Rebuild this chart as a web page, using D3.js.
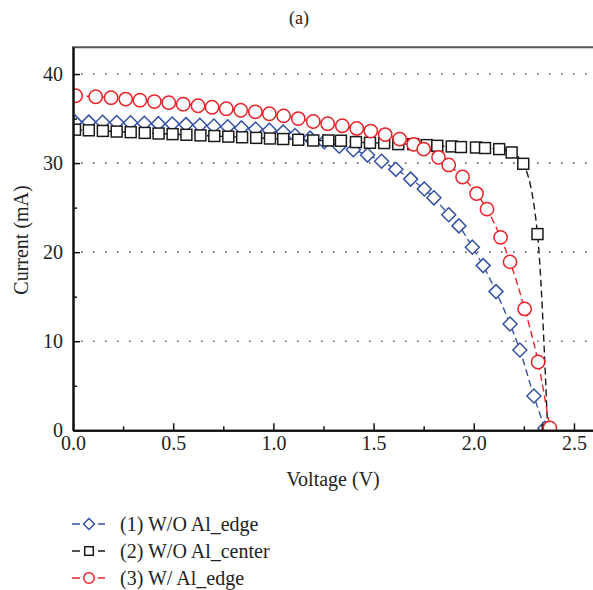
<!DOCTYPE html>
<html>
<head>
<meta charset="utf-8">
<script src="https://cdn.jsdelivr.net/npm/d3@7"></script>
<style>
  html, body { margin: 0; padding: 0; background: #fff; }
  svg { display: block; font-family: 'Liberation Serif', 'DejaVu Serif', serif; }
</style>
</head>
<body>
<svg id="chart" width="593" height="590"></svg>
<script>
"use strict";

// (1) W/O Al_edge
const voltageEdge = [0.01, 0.079, 0.148, 0.218, 0.287, 0.356, 0.426, 0.495, 0.564, 0.633, 0.703, 0.772, 0.841, 0.911, 0.980, 1.049,
  1.108, 1.183, 1.254, 1.329, 1.399, 1.470, 1.540, 1.611, 1.685, 1.753, 1.801, 1.875, 1.926, 1.993, 2.047, 2.111, 2.181, 2.230, 2.300, 2.355];
const currentEdge = [34.6, 34.6, 34.58, 34.55, 34.52, 34.48, 34.43, 34.38, 34.32, 34.25, 34.17, 34.07, 33.95, 33.82, 33.68, 33.5,
  33.1, 32.8, 32.4, 31.9, 31.5, 30.9, 30.2, 29.3, 28.2, 27.1, 26.1, 24.2, 22.95, 20.56, 18.49, 15.57, 11.94, 9.02, 3.85, 0.22];

// (2) W/O Al_center
const voltageCenter = [0.01, 0.079, 0.149, 0.218, 0.288, 0.358, 0.427, 0.497, 0.566, 0.636, 0.705, 0.775, 0.844, 0.914, 0.983,
  1.049, 1.124, 1.199, 1.274, 1.337, 1.412, 1.482, 1.553, 1.623, 1.698, 1.765, 1.818, 1.890, 1.936, 2.011, 2.056, 2.127, 2.189, 2.247, 2.318, 2.369];
const currentCenter = [33.75, 33.68, 33.61, 33.54, 33.47, 33.39, 33.32, 33.25, 33.18, 33.11, 33.04, 32.97, 32.90, 32.83, 32.76,
  32.70, 32.62, 32.54, 32.54, 32.51, 32.36, 32.28, 32.25, 32.13, 32.13, 32.02, 31.94, 31.87, 31.80, 31.75, 31.69, 31.57, 31.19, 29.92, 22.03, 0.03];

// (3) W/ Al_edge
const voltageWith = [0.013, 0.113, 0.190, 0.263, 0.334, 0.406, 0.478, 0.550, 0.624, 0.694, 0.765, 0.837, 0.910, 0.980, 1.051, 1.124,
  1.199, 1.271, 1.344, 1.416, 1.486, 1.558, 1.630, 1.700, 1.750, 1.824, 1.875, 1.944, 2.014, 2.066, 2.134, 2.181, 2.254, 2.321, 2.380];
const currentWith = [37.56, 37.45, 37.34, 37.19, 37.06, 36.91, 36.78, 36.61, 36.44, 36.27, 36.10, 35.93, 35.76, 35.54, 35.3, 35.0,
  34.67, 34.42, 34.19, 33.89, 33.60, 33.20, 32.70, 32.11, 31.57, 30.65, 29.79, 28.44, 26.58, 24.83, 21.66, 18.91, 13.63, 7.67, 0.26];

const seriesNames = ['(1) W/O Al_edge', '(2) W/O Al_center', '(3) W/ Al_edge'];
const xTicks = [0, 0.5, 1.0, 1.5, 2.0, 2.5];
const xMinorTicks = [0.25, 0.75, 1.25, 1.75, 2.25];
const yTicks = [0, 10, 20, 30, 40];
const yMinorTicks = [5, 15, 25, 35];

const FONT = "'Liberation Serif', 'DejaVu Serif', serif";
const svg = d3.select('#chart');

const x = d3.scaleLinear().domain([0, 2.6]).range([73, 594]);
const y = d3.scaleLinear().domain([0, 43]).range([430.3, 47.3]);

const series = [
  { name: seriesNames[0], vs: voltageEdge,   is: currentEdge,   color: '#3451a6', shape: 'diamond' },
  { name: seriesNames[1], vs: voltageCenter, is: currentCenter, color: '#1a1a1a', shape: 'square' },
  { name: seriesNames[2], vs: voltageWith,   is: currentWith,   color: '#ec2229', shape: 'circle' }
];

// plot clip
svg.append('defs').append('clipPath').attr('id', 'plotClip')
  .append('rect')
  .attr('x', x(0)).attr('y', y(43))
  .attr('width', 600 - x(0)).attr('height', y(0) - y(43));

// title
svg.append('text')
  .attr('x', 299).attr('y', 24)
  .attr('text-anchor', 'middle')
  .attr('font-size', '18px').attr('fill', '#222')
  .text('(a)');

// dotted grid
svg.append('g').selectAll('line').data(yTicks.filter(d => d > 0)).enter().append('line')
  .attr('x1', x(0) + 8).attr('x2', 594)
  .attr('y1', d => y(d)).attr('y2', d => y(d))
  .attr('stroke', '#666').attr('stroke-width', 1.6)
  .attr('stroke-dasharray', '1.6,10.4');

// top frame line
svg.append('line')
  .attr('x1', 72).attr('x2', 593).attr('y1', y(43)).attr('y2', y(43))
  .attr('stroke', '#555').attr('stroke-width', 2);

function drawMarker(sel, shape, color, s) {
  if (shape === 'circle') {
    sel.append('circle').attr('r', s * 0.95);
  } else if (shape === 'square') {
    sel.append('rect').attr('x', -s * 0.78).attr('y', -s * 0.78).attr('width', s * 1.56).attr('height', s * 1.56);
  } else {
    sel.append('path').attr('d', 'M0,' + (-s) + 'L' + s + ',0L0,' + s + 'L' + (-s) + ',0Z');
  }
  sel.selectAll('circle,rect,path')
    .attr('fill', '#fff').attr('stroke', color).attr('stroke-width', 1.5);
}

const line = d3.line()
  .x(d => x(d[0]))
  .y(d => y(d[1]))
  .curve(d3.curveMonotoneX);

const plot = svg.append('g').attr('clip-path', 'url(#plotClip)');
series.forEach(s => {
  const pts = s.vs.map((v, i) => [v, s.is[i]]);
  const g = plot.append('g');
  g.append('path')
    .attr('d', line(pts))
    .attr('fill', 'none').attr('stroke', s.color).attr('stroke-width', 1.4)
    .attr('stroke-dasharray', '7,4');
  g.selectAll('.mk').data(pts).enter().append('g')
    .attr('class', 'mk')
    .attr('transform', d => 'translate(' + x(d[0]) + ',' + y(d[1]) + ')')
    .each(function () { drawMarker(d3.select(this), s.shape, s.color, 7); });
});

// x axis
const xAxis = svg.append('g').attr('transform', 'translate(0,' + y(0) + ')');
xAxis.call(d3.axisBottom(x).tickValues(xTicks).tickSizeInner(-7).tickSizeOuter(0).tickPadding(6).tickFormat(d3.format('.1f')));
xAxis.append('g').call(d3.axisBottom(x).tickValues(xMinorTicks).tickSizeInner(-4).tickSizeOuter(0).tickFormat(''));
xAxis.selectAll('.domain').attr('stroke', '#111').attr('stroke-width', 2);
xAxis.selectAll('.tick line').attr('stroke', '#111').attr('stroke-width', 1.5);
xAxis.selectAll('text').attr('font-size', '20px').attr('fill', '#222').attr('font-family', FONT);

// y axis
const yAxis = svg.append('g').attr('transform', 'translate(' + x(0) + ',0)');
yAxis.call(d3.axisLeft(y).tickValues(yTicks).tickSizeInner(-7).tickSizeOuter(0).tickPadding(10).tickFormat(d3.format('d')));
yAxis.append('g').call(d3.axisLeft(y).tickValues(yMinorTicks).tickSizeInner(-4).tickSizeOuter(0).tickFormat(''));
yAxis.selectAll('.domain').attr('stroke', '#111').attr('stroke-width', 2);
yAxis.selectAll('.tick line').attr('stroke', '#111').attr('stroke-width', 1.5);
yAxis.selectAll('text').attr('font-size', '20px').attr('fill', '#222').attr('font-family', FONT);

// axis titles
svg.append('text')
  .attr('x', 333).attr('y', 486)
  .attr('text-anchor', 'middle').attr('font-size', '20px').attr('fill', '#222')
  .text('Voltage (V)');
svg.append('text')
  .attr('transform', 'translate(28,240) rotate(-90)')
  .attr('text-anchor', 'middle').attr('font-size', '20px').attr('fill', '#222')
  .text('Current (mA)');

// legend
const legendRows = [524, 551, 578];
series.forEach((s, i) => {
  const g = svg.append('g').attr('transform', 'translate(0,' + legendRows[i] + ')');
  g.append('line')
    .attr('x1', 72).attr('x2', 105).attr('y1', 0).attr('y2', 0)
    .attr('stroke', s.color).attr('stroke-width', 1.5)
    .attr('stroke-dasharray', '8,18');
  const m = g.append('g').attr('transform', 'translate(89,0)');
  drawMarker(m, s.shape, s.color, 5.5);
  g.append('text')
    .attr('x', 120).attr('y', 7)
    .attr('font-size', '20px').attr('fill', '#222')
    .text(s.name);
});
</script>
</body>
</html>
